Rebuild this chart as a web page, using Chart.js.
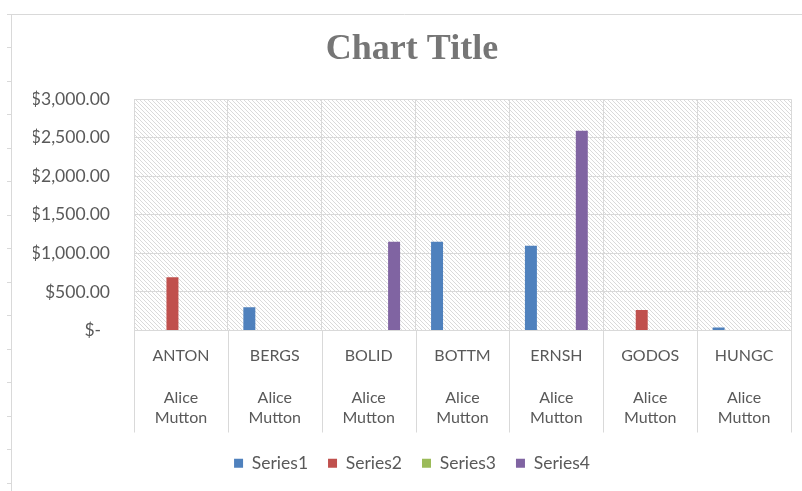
<!DOCTYPE html>
<html>
<head>
<meta charset="utf-8">
<script src="https://cdn.jsdelivr.net/npm/chart.js@4"></script>
<style>
  html, body { margin: 0; padding: 0; background: #ffffff; }
  #wrap { width: 802px; height: 491px; }
</style>
</head>
<body>
<div id="wrap"><canvas id="myChart" width="802" height="491"></canvas></div>
<script>
// Kategori dan data tiap seri
const customers = ['ANTON', 'BERGS', 'BOLID', 'BOTTM', 'ERNSH', 'GODOS', 'HUNGC'];
const product = ['Alice', 'Mutton'];
const series1 = [null, 300, null, 1150, 1100, null, 40];
const series2 = [690, null, null, null, null, 265, null];
const series3 = [null, null, null, null, null, null, null];
const series4 = [null, null, 1150, null, 2590, null, null];
const yTicks = [0, 500, 1000, 1500, 2000, 2500, 3000];

const gridColor = '#d9d9d9';
const textColor = '#595959';

// Label dua tingkat: pelanggan di atas, produk di bawah
const labels = customers.map(c => [c, '', ...product]);

function money(v) {
  if (v === 0) return '$-  ';
  return '$' + v.toLocaleString('en-US', { minimumFractionDigits: 2, maximumFractionDigits: 2 });
}

// Pola garis miring untuk latar area plot
function hatch() {
  const c = document.createElement('canvas');
  c.width = 4; c.height = 4;
  const g = c.getContext('2d');
  g.fillStyle = '#ffffff';
  g.fillRect(0, 0, 4, 4);
  g.fillStyle = '#dadada';
  for (let i = 0; i < 4; i++) g.fillRect(i, i, 1, 1);
  return c;
}

const backdrop = {
  id: 'backdrop',
  beforeDraw(chart) {
    const { ctx, chartArea: a } = chart;
    ctx.save();
    // bingkai lembar kerja
    ctx.strokeStyle = gridColor;
    ctx.lineWidth = 1;
    ctx.beginPath();
    ctx.moveTo(7, 14.5); ctx.lineTo(802, 14.5);
    ctx.moveTo(11.5, 14); ctx.lineTo(11.5, 491);
    for (let y = 47; y < 491; y += 33.5) {
      const yy = Math.round(y) + 0.5;
      ctx.moveTo(7, yy); ctx.lineTo(11, yy);
    }
    ctx.stroke();
    // area plot bergaris
    ctx.fillStyle = ctx.createPattern(hatch(), 'repeat');
    ctx.fillRect(a.left, a.top, a.right - a.left, a.bottom - a.top);
    // pemisah kategori di bawah sumbu
    const x = chart.scales.x;
    const half = (x.getPixelForValue(1) - x.getPixelForValue(0)) / 2;
    ctx.strokeStyle = gridColor;
    ctx.beginPath();
    for (let i = 0; i <= customers.length; i++) {
      const px = Math.round(x.getPixelForValue(i) - half) + 0.5;
      ctx.moveTo(px, a.bottom);
      ctx.lineTo(px, a.bottom + 102);
    }
    ctx.stroke();
    ctx.restore();
  }
};

const data = {
  labels: labels,
  datasets: [
    { label: 'Series1', data: series1, backgroundColor: '#4f81bd' },
    { label: 'Series2', data: series2, backgroundColor: '#c0504d' },
    { label: 'Series3', data: series3, backgroundColor: '#9bbb59' },
    { label: 'Series4', data: series4, backgroundColor: '#8064a2' }
  ]
};

const config = {
  type: 'bar',
  data: data,
  plugins: [backdrop],
  options: {
    responsive: false,
    animation: false,
    categoryPercentage: 0.723,
    barPercentage: 0.706,
    layout: { padding: { left: 33, right: 11, top: 0, bottom: 9 } },
    plugins: {
      title: {
        display: true,
        text: 'Chart Title',
        color: '#767676',
        font: { family: 'Liberation Serif', size: 36, weight: 'bold' },
        padding: { top: 28, bottom: 28 }
      },
      legend: {
        position: 'bottom',
        labels: {
          color: textColor,
          font: { family: 'Lato', size: 17.5 },
          boxWidth: 9,
          boxHeight: 9,
          padding: 20
        }
      },
      tooltip: { enabled: false }
    },
    scales: {
      x: {
        grid: { color: gridColor, drawTicks: false, offset: true },
        border: { color: gridColor },
        ticks: { color: textColor, font: { family: 'Lato', size: 16, lineHeight: 1.3 }, padding: 15, maxRotation: 0, autoSkip: false },
        afterFit(scale) { scale.height = 104; }
      },
      y: {
        min: 0,
        max: 3000,
        grid: { color: gridColor, drawTicks: false },
        border: { display: false },
        afterBuildTicks(scale) { scale.ticks = yTicks.map(v => ({ value: v })); },
        ticks: { color: textColor, font: { family: 'Lato', size: 17.5 }, padding: 24, callback: v => money(v) },
        afterFit(scale) { scale.width = 101; }
      }
    }
  }
};

new Chart(document.getElementById('myChart').getContext('2d'), config);
</script>
</body>
</html>
